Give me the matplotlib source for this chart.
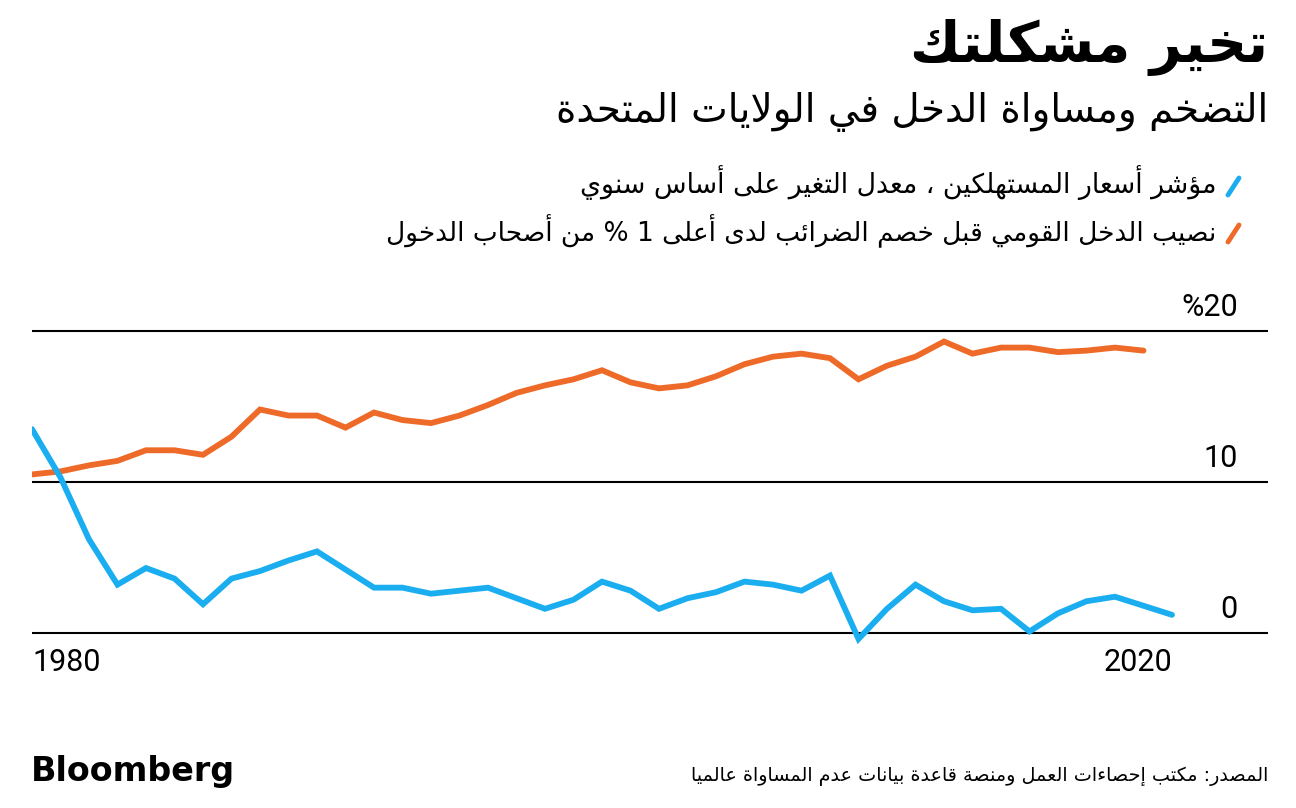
import numpy as np
import matplotlib
matplotlib.use('Agg')
import matplotlib.pyplot as plt
from matplotlib.lines import Line2D
import matplotlib.transforms as mtransforms

# dati
years_cpi = np.arange(1980, 2021)
cpi = [13.5, 10.3, 6.2, 3.2, 4.3, 3.6, 1.9, 3.6, 4.1, 4.8, 5.4, 4.2, 3.0, 3.0,
       2.6, 2.8, 3.0, 2.3, 1.6, 2.2, 3.4, 2.8, 1.6, 2.3, 2.7, 3.4, 3.2, 2.8,
       3.8, -0.4, 1.6, 3.2, 2.1, 1.5, 1.6, 0.1, 1.3, 2.1, 2.4, 1.8, 1.2]
years_top = np.arange(1980, 2020)
top1 = [10.5, 10.7, 11.1, 11.4, 12.1, 12.1, 11.8, 13.0, 14.8, 14.4, 14.4, 13.6,
        14.6, 14.1, 13.9, 14.4, 15.1, 15.9, 16.4, 16.8, 17.4, 16.6, 16.2, 16.4,
        17.0, 17.8, 18.3, 18.5, 18.2, 16.8, 17.7, 18.3, 19.3, 18.5, 18.9, 18.9,
        18.6, 18.7, 18.9, 18.7]
yticks = [0, 10, 20]
ytick_labels = ['0', '10', '%20']
xtick_years = [1980, 2020]

title = 'تخير مشكلتك'
subtitle = 'التضخم ومساواة الدخل في الولايات المتحدة'
leg_cpi = 'مؤشر أسعار المستهلكين ، معدل التغير على أساس سنوي'
leg_top = 'نصيب الدخل القومي قبل خصم الضرائب لدى أعلى 1 % من أصحاب الدخول'
source = 'المصدر: مكتب إحصاءات العمل ومنصة قاعدة بيانات عدم المساواة عالميا'

BLUE = '#1AAEF0'
ORANGE = '#EE6A28'

# matplotlib non fa lo shaping dell'arabo: lo faccio a mano
DUAL = {'ئ': 0xFE89, 'ب': 0xFE8F, 'ت': 0xFE95, 'ث': 0xFE99, 'ج': 0xFE9D,
        'ح': 0xFEA1, 'خ': 0xFEA5, 'س': 0xFEB1, 'ش': 0xFEB5, 'ص': 0xFEB9,
        'ض': 0xFEBD, 'ط': 0xFEC1, 'ظ': 0xFEC5, 'ع': 0xFEC9, 'غ': 0xFECD,
        'ف': 0xFED1, 'ق': 0xFED5, 'ك': 0xFED9, 'ل': 0xFEDD, 'م': 0xFEE1,
        'ن': 0xFEE5, 'ه': 0xFEE9, 'ي': 0xFEF1}
RIGHT = {'آ': 0xFE81, 'أ': 0xFE83, 'ؤ': 0xFE85, 'إ': 0xFE87, 'ا': 0xFE8D,
         'ة': 0xFE93, 'د': 0xFEA9, 'ذ': 0xFEAB, 'ر': 0xFEAD, 'ز': 0xFEAF,
         'و': 0xFEED, 'ى': 0xFEEF}
LAMALEF = {'آ': 0xFEF5, 'أ': 0xFEF7, 'إ': 0xFEF9, 'ا': 0xFEFB}


def kind(u):
    if u[0] == 'LA':
        return 'R'
    c = u[1]
    if c in DUAL or c == 'ـ':
        return 'D'
    if c in RIGHT:
        return 'R'
    return 'U'


def ar(text):
    units = []
    i = 0
    while i < len(text):
        c = text[i]
        if c == 'ل' and i + 1 < len(text) and text[i + 1] in LAMALEF:
            units.append(('LA', text[i + 1]))
            i += 2
        else:
            units.append(('C', c))
            i += 1
    out = []
    for k, u in enumerate(units):
        t = kind(u)
        prev = k > 0 and kind(units[k - 1]) == 'D'
        nxt = t == 'D' and k + 1 < len(units) and kind(units[k + 1]) in ('D', 'R')
        if u[0] == 'LA':
            out.append(chr(LAMALEF[u[1]] + (1 if prev else 0)))
            continue
        c = u[1]
        if c in DUAL:
            b = DUAL[c]
            if prev and nxt:
                out.append(chr(b + 3))
            elif prev:
                out.append(chr(b + 1))
            elif nxt:
                out.append(chr(b + 2))
            else:
                out.append(chr(b))
        elif c in RIGHT:
            out.append(chr(RIGHT[c] + (1 if prev else 0)))
        else:
            out.append(c)
    return ''.join(out[::-1])


W, H = 1296, 808
fig = plt.figure(figsize=(W / 100, H / 100), dpi=100)
fig.patch.set_facecolor('white')


def fx(px):
    return px / W


def fy(py):
    return 1 - py / H


# assi: 1980 a x=32, 2020 a x=1172, 0 a y=633, 20 a y=331
ax = fig.add_axes([fx(32), fy(655.6), fx(1268) - fx(32), (655.6 - 300.8) / H])
ax.set_xlim(1980, 1980 + (1268 - 32) / 28.5)
ax.set_ylim(-1.5, 22)
for s in ax.spines.values():
    s.set_visible(False)
ax.set_xticks([])
ax.set_yticks([])
for v in yticks:
    ax.axhline(v, color='black', lw=1.5, zorder=1)

ax.plot(years_top, top1, color=ORANGE, lw=4.2, solid_capstyle='round',
        solid_joinstyle='miter', zorder=3)
ax.plot(years_cpi, cpi, color=BLUE, lw=4.2, solid_capstyle='round',
        solid_joinstyle='miter', zorder=3)

# etichette asse y sopra le griglie, a destra
ytr = mtransforms.blended_transform_factory(fig.transFigure, ax.transData) + \
    mtransforms.ScaledTranslation(0, 9 / 100, fig.dpi_scale_trans)
for v, lab in zip(yticks, ytick_labels):
    ax.text(fx(1238), v, lab, transform=ytr, ha='right', va='bottom',
            fontsize=22, family='Roboto', color='black')

xtr = mtransforms.blended_transform_factory(ax.transData, fig.transFigure)
ax.text(xtick_years[0], fy(648), str(xtick_years[0]), transform=xtr,
        ha='left', va='top', fontsize=22, family='Roboto')
ax.text(xtick_years[1], fy(648), str(xtick_years[1]), transform=xtr,
        ha='right', va='top', fontsize=22, family='Roboto')

# titoli
fig.text(fx(1268), fy(47), ar(title), ha='right', va='center', fontsize=40,
         fontweight='bold', family='DejaVu Sans')
fig.text(fx(1268), fy(112), ar(subtitle), ha='right', va='center',
         fontsize=28, family='DejaVu Sans')

# legenda
fig.text(fx(1216), fy(183), ar(leg_cpi), ha='right', va='center',
         fontsize=19.3, family='DejaVu Sans')
fig.text(fx(1216), fy(231), ar(leg_top), ha='right', va='center',
         fontsize=19, family='DejaVu Sans')
fig.add_artist(Line2D([fx(1228), fx(1239)], [fy(195), fy(178)], color=BLUE,
                      lw=3.5, solid_capstyle='round'))
fig.add_artist(Line2D([fx(1228), fx(1239)], [fy(242), fy(225)], color=ORANGE,
                      lw=3.5, solid_capstyle='round'))

# piede
fig.text(fx(31), fy(772), 'Bloomberg', ha='left', va='center', fontsize=24,
         fontweight='heavy', family='DejaVu Sans', color='black')
fig.text(fx(1268), fy(776), ar(source), ha='right', va='center',
         fontsize=13.8, family='DejaVu Sans')

fig.savefig('out.png', dpi=100, facecolor='white')
